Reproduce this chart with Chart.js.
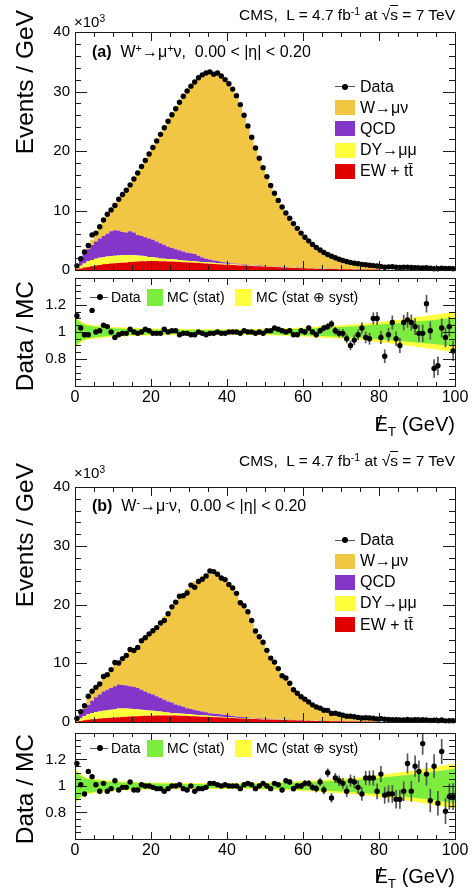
<!DOCTYPE html>
<html>
<head>
<meta charset="utf-8">
<title>MET distributions, W to mu nu</title>
<script src="https://cdn.jsdelivr.net/npm/chart.js@4.4.1/dist/chart.umd.min.js"></script>
<style>
  html, body { margin: 0; padding: 0; background: #fff; }
  #page { position: relative; width: 475px; height: 891px; overflow: hidden;
          font-family: "Liberation Sans", Arial, Helvetica, sans-serif; color: #000; }
  #page canvas { position: absolute; left: 0; }
  .txt { position: absolute; white-space: nowrap; line-height: 1; }
  .vt { position: absolute; white-space: nowrap; text-align: right; width: 200px; line-height: 1;
        transform-origin: 0 0; transform: rotate(-90deg); }
  .txt sup { font-size: 68%; vertical-align: 0; position: relative; top: -0.5em; }
  .txt sub { font-size: 68%; vertical-align: 0; position: relative; top: 0.35em; }
  .met { position: relative; }
  .met::after { content: "/"; position: absolute; left: 0.1em; top: -0.02em; }
  .rt { border-top: 1px solid #000; }
  .box { position: absolute; }
</style>
</head>
<body>
<div id="page"></div>
<script>
// binning: 1 GeV bins, 0 - 100 GeV (MC stack drawn up to 80 GeV)
const xMin = 0;
const xMax = 100;
const binWidth = 1;
const xTicks = [0, 20, 40, 60, 80, 100];
const mainYTicks = [0, 10, 20, 30, 40];
const ratioYTicks = [0.8, 1, 1.2];

// ---------- (a) W+ -> mu+ nu, events / GeV in units of 10^3 ----------
const dataA = [0.7, 1.9, 3.04, 4.12, 5.9, 6.2, 7.27, 8.4, 9.36, 10.1,
  10.85, 11.9, 12.7, 13.4, 14.3, 15.3, 16.3, 17.4, 18.4, 19.5,
  20.6, 21.7, 22.8, 23.9, 25.0, 26.1, 27.1, 28.2, 29.2, 30.1,
  30.9, 31.6, 32.3, 32.8, 33.1, 33.3, 32.9, 33.1, 32.6, 32.0,
  31.3, 30.4, 29.3, 27.8, 26.0, 24.2, 22.3, 20.5, 18.8, 17.2,
  15.7, 14.2, 12.9, 11.7, 10.6, 9.6, 8.7, 7.8, 7.0, 6.2,
  5.5, 4.9, 4.3, 3.8, 3.35, 2.95, 2.6, 2.3, 2.05, 1.8,
  1.6, 1.42, 1.28, 1.15, 1.04, 0.95, 0.87, 0.8, 0.74, 0.68,
  0.58, 0.47, 0.53, 0.55, 0.46, 0.41, 0.47, 0.46, 0.43, 0.4,
  0.36, 0.34, 0.4, 0.32, 0.22, 0.22, 0.29, 0.26, 0.27, 0.22];
const wA = [0.03, 0.14, 0.4, 0.7, 0.9, 1.4, 1.9, 2.3, 2.9, 3.6,
  4.6, 5.3, 6.3, 7.1, 7.8, 9.0, 10.4, 11.7, 12.9, 14.2,
  15.5, 16.9, 18.3, 19.7, 21.1, 22.4, 23.6, 24.9, 26.1, 27.2,
  28.1, 28.9, 29.9, 30.7, 31.2, 31.55, 31.3, 31.6, 31.25, 30.75,
  30.15, 29.3, 28.3, 26.8, 25.1, 23.3, 21.45, 19.7, 18.0, 16.5,
  15.0, 13.55, 12.3, 11.13, 10.07, 9.11, 8.24, 7.38, 6.62, 5.84,
  5.17, 4.59, 4.01, 3.54, 3.11, 2.73, 2.4, 2.11, 1.87, 1.63,
  1.45, 1.28, 1.15, 1.03, 0.93, 0.85, 0.77, 0.71, 0.655, 0.6];
const qcdA = [0.3, 1.0, 1.6, 2.05, 2.5, 2.9, 3.25, 3.55, 3.85, 4.15,
  4.3, 4.15, 3.9, 3.8, 4.0, 3.8, 3.45, 3.3, 3.2, 3.1,
  2.95, 2.75, 2.55, 2.3, 2.05, 1.9, 1.75, 1.6, 1.5, 1.35,
  1.3, 1.25, 1.0, 0.75, 0.6, 0.5, 0.4, 0.35, 0.25, 0.2,
  0.15, 0.13, 0.12, 0.11, 0.1, 0.09, 0.085, 0.08, 0.075, 0.07,
  0.065, 0.06, 0.055, 0.05, 0.045, 0.04, 0.038, 0.035, 0.032, 0.03,
  0.028, 0.026, 0.024, 0.022, 0.02, 0.018, 0.016, 0.015, 0.014, 0.013,
  0.012, 0.011, 0.01, 0.009, 0.009, 0.008, 0.008, 0.007, 0.007, 0.007];
const dyA = [0.18, 0.45, 0.7, 0.93, 1.07, 1.15, 1.2, 1.2, 1.23, 1.27,
  1.27, 1.27, 1.27, 1.22, 1.17, 1.12, 1.03, 0.95, 0.83, 0.7,
  0.65, 0.55, 0.47, 0.44, 0.41, 0.38, 0.35, 0.34, 0.28, 0.27,
  0.26, 0.25, 0.24, 0.23, 0.22, 0.21, 0.2, 0.19, 0.17, 0.15,
  0.13, 0.12, 0.11, 0.1, 0.09, 0.085, 0.08, 0.075, 0.07, 0.065,
  0.06, 0.055, 0.05, 0.046, 0.042, 0.04, 0.037, 0.034, 0.031, 0.028,
  0.026, 0.024, 0.022, 0.02, 0.018, 0.017, 0.016, 0.015, 0.014, 0.013,
  0.012, 0.011, 0.011, 0.01, 0.01, 0.009, 0.009, 0.008, 0.008, 0.008];
const ewA = [0.12, 0.25, 0.4, 0.52, 0.63, 0.75, 0.85, 0.95, 1.02, 1.08,
  1.13, 1.18, 1.23, 1.28, 1.33, 1.38, 1.42, 1.45, 1.47, 1.5,
  1.5, 1.5, 1.48, 1.46, 1.44, 1.42, 1.4, 1.36, 1.32, 1.28,
  1.24, 1.2, 1.16, 1.12, 1.08, 1.04, 1.0, 0.96, 0.93, 0.9,
  0.87, 0.84, 0.8, 0.77, 0.74, 0.71, 0.68, 0.65, 0.62, 0.59,
  0.56, 0.53, 0.5, 0.47, 0.44, 0.41, 0.38, 0.35, 0.32, 0.3,
  0.28, 0.26, 0.24, 0.22, 0.2, 0.18, 0.17, 0.16, 0.15, 0.14,
  0.13, 0.12, 0.11, 0.1, 0.09, 0.085, 0.08, 0.075, 0.07, 0.065];
const ratioA = [1.12, 1.03, 0.98, 0.98, 1.16, 1.0, 1.01, 1.05, 1.04, 1.0,
  0.96, 0.98, 0.99, 0.99, 1.02, 1.0, 0.99, 1.0, 1.02, 1.01,
  0.99, 0.99, 0.99, 1.02, 1.0, 1.01, 1.01, 0.98, 0.99, 0.99,
  0.98, 0.98, 1.0, 0.99, 0.98, 0.99, 0.99, 1.0, 0.99, 0.99,
  1.0, 1.0, 1.0, 0.99, 1.01, 1.0, 1.0, 0.99, 1.0, 0.99,
  1.01, 1.01, 1.03, 1.02, 1.01, 1.0, 1.01, 0.98, 0.98, 1.01,
  1.0, 1.03, 1.0, 0.98, 1.01, 1.03, 1.04, 1.06, 1.01, 0.99,
  0.99, 0.95, 0.9, 0.94, 0.98, 1.03, 0.96, 0.95, 1.1, 1.1,
  0.96, 0.82, 0.98, 1.07, 0.95, 0.9, 1.07, 1.09, 1.07, 1.04,
  0.99, 0.99, 1.21, 1.01, 0.73, 0.75, 1.03, 0.96, 1.04, 0.86];
const errA = [0.012, 0.01, 0.008, 0.007, 0.007, 0.006, 0.006, 0.006, 0.006, 0.006,
  0.006, 0.006, 0.006, 0.006, 0.006, 0.006, 0.006, 0.006, 0.006, 0.006,
  0.006, 0.006, 0.006, 0.006, 0.006, 0.006, 0.006, 0.006, 0.006, 0.006,
  0.006, 0.006, 0.006, 0.006, 0.006, 0.006, 0.006, 0.006, 0.006, 0.006,
  0.006, 0.006, 0.007, 0.007, 0.007, 0.008, 0.008, 0.008, 0.009, 0.009,
  0.01, 0.01, 0.011, 0.011, 0.012, 0.012, 0.013, 0.014, 0.015, 0.016,
  0.017, 0.018, 0.019, 0.02, 0.021, 0.022, 0.024, 0.025, 0.027, 0.028,
  0.03, 0.031, 0.033, 0.035, 0.036, 0.038, 0.04, 0.041, 0.043, 0.045,
  0.046, 0.048, 0.049, 0.05, 0.052, 0.053, 0.055, 0.056, 0.057, 0.059,
  0.06, 0.062, 0.063, 0.064, 0.066, 0.067, 0.068, 0.07, 0.071, 0.072];

// ratio bands: half widths at these E_T nodes (GeV)
const bandX = [0, 1, 2, 3, 5, 7.5, 10, 15, 20, 25, 30, 35, 40, 45, 50, 55, 60, 65, 70, 75, 80, 85, 90, 95, 100];
const statA = [0.11, 0.08, 0.06, 0.05, 0.04, 0.033, 0.028, 0.022, 0.019, 0.016, 0.015, 0.014, 0.014,
  0.015, 0.017, 0.02, 0.025, 0.03, 0.037, 0.045, 0.055, 0.065, 0.078, 0.09, 0.105];
const totA = [0.12, 0.09, 0.07, 0.06, 0.05, 0.043, 0.037, 0.03, 0.026, 0.024, 0.022, 0.021, 0.021,
  0.022, 0.024, 0.028, 0.034, 0.042, 0.05, 0.06, 0.075, 0.09, 0.11, 0.13, 0.15];

// ---------- (b) W- -> mu- nu ----------
const dataB = [0.6, 1.77, 2.77, 4.38, 5.24, 5.9, 6.48, 7.75, 8.06, 8.92,
  10.14, 10.04, 10.79, 11.34, 12.36, 12.17, 12.7, 13.84, 14.35, 15.0,
  15.54, 16.07, 16.86, 17.28, 18.42, 19.6, 20.4, 21.41, 21.5, 21.97,
  23.3, 22.94, 23.91, 24.3, 24.85, 25.7, 25.6, 25.15, 24.5, 24.24,
  23.4, 22.8, 21.9, 20.29, 19.8, 18.77, 17.27, 15.48, 14.5, 13.57,
  12.2, 10.88, 10.2, 9.09, 7.86, 7.49, 6.59, 5.49, 4.9, 4.3,
  3.88, 3.42, 2.92, 2.55, 2.37, 1.99, 1.98, 1.46, 1.51, 1.32,
  1.16, 0.99, 0.98, 0.89, 0.78, 0.69, 0.72, 0.67, 0.63, 0.53,
  0.57, 0.46, 0.43, 0.41, 0.38, 0.36, 0.36, 0.42, 0.34, 0.38,
  0.36, 0.41, 0.33, 0.26, 0.32, 0.23, 0.33, 0.2, 0.22, 0.21];
const wB = [0.02, 0.35, 0.75, 1.05, 1.3, 1.65, 2.05, 2.4, 2.9, 3.3,
  3.65, 3.95, 4.6, 5.25, 5.9, 6.55, 7.3, 8.2, 9.15, 10.1,
  11.0, 12.0, 13.1, 14.2, 15.3, 16.3, 17.4, 18.4, 19.35, 20.3,
  21.1, 21.85, 22.5, 23.0, 23.45, 23.7, 23.68, 23.55, 23.22, 22.8,
  22.3, 21.8, 20.95, 19.85, 18.8, 17.65, 16.4, 15.2, 13.9, 12.75,
  11.7, 10.6, 9.55, 8.6, 7.7, 6.85, 6.05, 5.3, 4.6, 4.0,
  3.55, 3.1, 2.7, 2.4, 2.1, 1.85, 1.6, 1.43, 1.26, 1.12,
  1.0, 0.9, 0.82, 0.745, 0.68, 0.63, 0.585, 0.54, 0.505, 0.47];
const qcdB = [0.25, 0.8, 1.2, 1.6, 2.1, 2.5, 2.9, 3.3, 3.5, 3.7,
  3.9, 4.1, 4.0, 3.9, 3.85, 3.8, 3.65, 3.4, 3.2, 2.95,
  2.8, 2.55, 2.3, 2.1, 1.9, 1.75, 1.5, 1.35, 1.2, 1.0,
  0.9, 0.8, 0.7, 0.65, 0.55, 0.45, 0.42, 0.4, 0.38, 0.35,
  0.3, 0.25, 0.22, 0.16, 0.14, 0.12, 0.1, 0.09, 0.08, 0.075,
  0.07, 0.065, 0.06, 0.055, 0.05, 0.045, 0.04, 0.038, 0.035, 0.032,
  0.03, 0.028, 0.026, 0.024, 0.022, 0.02, 0.018, 0.016, 0.015, 0.014,
  0.013, 0.012, 0.011, 0.01, 0.01, 0.009, 0.009, 0.008, 0.008, 0.008];
const dyB = [0.17, 0.42, 0.72, 0.92, 1.05, 1.18, 1.22, 1.28, 1.32, 1.38,
  1.42, 1.48, 1.44, 1.4, 1.31, 1.22, 1.15, 1.07, 0.95, 0.88,
  0.82, 0.76, 0.7, 0.6, 0.5, 0.45, 0.41, 0.38, 0.35, 0.32,
  0.3, 0.28, 0.26, 0.24, 0.22, 0.2, 0.18, 0.16, 0.14, 0.12,
  0.1, 0.1, 0.09, 0.085, 0.08, 0.075, 0.07, 0.065, 0.06, 0.055,
  0.05, 0.046, 0.042, 0.04, 0.037, 0.034, 0.031, 0.028, 0.026, 0.024,
  0.022, 0.02, 0.019, 0.018, 0.017, 0.016, 0.015, 0.014, 0.013, 0.012,
  0.011, 0.01, 0.01, 0.009, 0.009, 0.008, 0.008, 0.007, 0.007, 0.006];
const ewB = [0.08, 0.18, 0.28, 0.38, 0.45, 0.52, 0.58, 0.62, 0.68, 0.72,
  0.78, 0.82, 0.86, 0.9, 0.94, 0.98, 1.0, 1.03, 1.05, 1.07,
  1.08, 1.09, 1.1, 1.1, 1.1, 1.1, 1.09, 1.07, 1.05, 1.03,
  1.0, 0.97, 0.94, 0.91, 0.88, 0.85, 0.82, 0.79, 0.76, 0.73,
  0.7, 0.67, 0.64, 0.61, 0.58, 0.55, 0.52, 0.49, 0.46, 0.44,
  0.42, 0.4, 0.38, 0.36, 0.34, 0.32, 0.3, 0.28, 0.26, 0.24,
  0.22, 0.2, 0.19, 0.18, 0.17, 0.16, 0.15, 0.14, 0.13, 0.12,
  0.11, 0.1, 0.095, 0.09, 0.085, 0.08, 0.075, 0.07, 0.065, 0.06];
const ratioB = [1.17, 1.01, 0.94, 1.11, 1.07, 1.01, 0.96, 1.02, 0.96, 0.98,
  1.04, 0.97, 0.99, 0.99, 1.03, 0.97, 0.97, 1.01, 1.0, 1.0,
  0.99, 0.98, 0.98, 0.96, 0.98, 1.0, 1.0, 1.01, 0.98, 0.97,
  1.0, 0.96, 0.98, 0.98, 0.99, 1.02, 1.02, 1.01, 1.0, 1.01,
  1.0, 1.0, 1.0, 0.98, 1.01, 1.02, 1.01, 0.98, 1.0, 1.02,
  1.0, 0.98, 1.02, 1.01, 0.97, 1.04, 1.03, 0.98, 1.0, 1.0,
  1.02, 1.02, 0.99, 0.98, 1.03, 0.97, 1.1, 0.91, 1.06, 1.04,
  1.02, 0.96, 1.04, 1.03, 0.99, 0.94, 1.06, 1.06, 1.06, 0.96,
  1.09, 0.93, 0.94, 0.94, 0.9, 0.9, 0.96, 1.17, 0.96, 1.15,
  1.11, 1.32, 1.09, 0.89, 1.15, 0.87, 1.26, 0.81, 0.92, 0.92];
const errB = [0.014, 0.011, 0.009, 0.008, 0.008, 0.007, 0.007, 0.007, 0.007, 0.007,
  0.007, 0.007, 0.007, 0.007, 0.007, 0.007, 0.007, 0.007, 0.007, 0.007,
  0.007, 0.007, 0.007, 0.007, 0.007, 0.007, 0.007, 0.007, 0.007, 0.007,
  0.007, 0.007, 0.007, 0.007, 0.007, 0.007, 0.007, 0.007, 0.007, 0.007,
  0.007, 0.007, 0.008, 0.008, 0.009, 0.009, 0.01, 0.01, 0.011, 0.011,
  0.012, 0.013, 0.013, 0.014, 0.015, 0.016, 0.017, 0.018, 0.019, 0.02,
  0.022, 0.023, 0.025, 0.026, 0.028, 0.03, 0.031, 0.033, 0.035, 0.037,
  0.039, 0.041, 0.043, 0.045, 0.047, 0.049, 0.051, 0.053, 0.055, 0.057,
  0.059, 0.061, 0.063, 0.065, 0.067, 0.069, 0.071, 0.073, 0.075, 0.077,
  0.08, 0.082, 0.084, 0.086, 0.088, 0.09, 0.092, 0.094, 0.096, 0.098];
const statB = [0.12, 0.09, 0.07, 0.055, 0.045, 0.036, 0.03, 0.024, 0.02, 0.017, 0.016, 0.015, 0.015,
  0.016, 0.018, 0.022, 0.028, 0.034, 0.042, 0.05, 0.062, 0.075, 0.09, 0.11, 0.13];
const totB = [0.13, 0.1, 0.08, 0.065, 0.055, 0.046, 0.04, 0.032, 0.027, 0.025, 0.023, 0.022, 0.022,
  0.023, 0.026, 0.03, 0.037, 0.045, 0.055, 0.066, 0.085, 0.1, 0.12, 0.145, 0.17];

// colours
const colW = "#f1c644";
const colQCD = "#8436c8";
const colDY = "#ffff3c";
const colEW = "#e00000";
const colStat = "#7ced3e";
const colTot = "#ffff40";

Chart.defaults.font.family = '"Liberation Sans", Arial, sans-serif';
Chart.defaults.color = "#000";

const page = document.getElementById("page");

function addEl(cls, html, css) {
  const d = document.createElement("div");
  d.className = cls;
  d.innerHTML = html;
  Object.assign(d.style, css);
  page.appendChild(d);
  return d;
}

function addCanvas(top, height) {
  const c = document.createElement("canvas");
  c.width = 475;
  c.height = height;
  c.style.top = top + "px";
  c.style.width = "475px";
  c.style.height = height + "px";
  page.appendChild(c);
  return c;
}

const binCenter = (i) => xMin + (i + 0.5) * binWidth;
const fixTicks = (list) => (s) => { s.ticks = list.map((v) => ({ value: v })); };
const nearMult = (v, step) => Math.abs(v / step - Math.round(v / step)) < 1e-6;

// ROOT-like frame with inward ticks on all four sides
const rootFrame = {
  id: "rootFrame",
  afterDatasetsDraw(chart, args, o) {
    const { ctx, chartArea: a } = chart;
    const x = chart.scales.x;
    const y = chart.scales.y;
    ctx.save();
    ctx.strokeStyle = "#1a1a1a";
    ctx.lineWidth = 1;
    ctx.beginPath();
    const nx = Math.round((x.max - x.min) / o.xMinor);
    for (let k = 0; k <= nx; k++) {
      const v = x.min + k * o.xMinor;
      const px = Math.round(x.getPixelForValue(v)) + 0.5;
      const len = nearMult(v, o.xMajor) ? o.xMajorLen : o.xMinorLen;
      ctx.moveTo(px, a.top);
      ctx.lineTo(px, a.top + len);
      ctx.moveTo(px, a.bottom);
      ctx.lineTo(px, a.bottom - len);
    }
    const ny = Math.round((y.max - y.min) / o.yMinor);
    for (let k = 0; k <= ny; k++) {
      const v = y.min + k * o.yMinor;
      const py = Math.round(y.getPixelForValue(v)) + 0.5;
      const len = nearMult(v, o.yMajor) ? o.yMajorLen : o.yMinorLen;
      ctx.moveTo(a.left, py);
      ctx.lineTo(a.left + len, py);
      ctx.moveTo(a.right, py);
      ctx.lineTo(a.right - len, py);
    }
    ctx.stroke();
    ctx.strokeRect(Math.round(a.left) + 0.5, Math.round(a.top) + 0.5,
      Math.round(a.right - a.left), Math.round(a.bottom - a.top));
    ctx.restore();
  },
};

const baseOptions = {
  responsive: false,
  animation: false,
  devicePixelRatio: 1,
  events: [],
};

function drawMain(p) {
  const g = p.main;
  const canvas = addCanvas(g.top - 32, g.bottom - g.top + 52);
  // left bin edges + closing point, drawn as steps
  const steps = (vals) => {
    const pts = vals.map((v, i) => ({ x: xMin + i * binWidth, y: v }));
    pts.push({ x: xMin + vals.length * binWidth, y: vals[vals.length - 1] });
    return pts;
  };
  const hist = (label, vals, color, fill) => ({
    type: "line",
    label: label,
    data: steps(vals),
    stack: "mc",
    stepped: "before",
    fill: fill,
    backgroundColor: color,
    borderColor: "transparent",
    borderWidth: 0,
    pointRadius: 0,
  });
  new Chart(canvas, {
    type: "scatter",
    data: {
      datasets: [
        {
          label: "Data",
          data: p.data.map((v, i) => ({ x: binCenter(i), y: v })),
          stack: "data",
          pointRadius: 2.7,
          pointBackgroundColor: "#000",
          pointBorderWidth: 0,
          clip: false,
        },
        hist("EW + tt\u0304", p.ew, colEW, "origin"),
        hist("DY\u2192\u03bc\u03bc", p.dy, colDY, "-1"),
        hist("QCD", p.qcd, colQCD, "-1"),
        hist("W\u2192\u03bc\u03bd", p.w, colW, "-1"),
      ],
    },
    options: Object.assign({}, baseOptions, {
      layout: { padding: { top: 32, right: 20, bottom: 20, left: 0 } },
      plugins: {
        legend: { display: false },
        tooltip: { enabled: false },
        rootFrame: { xMajor: 20, xMinor: 5, xMajorLen: 9, xMinorLen: 5,
                     yMajor: 10, yMinor: 2, yMajorLen: 12, yMinorLen: 6 },
      },
      scales: {
        x: { type: "linear", min: xMin, max: xMax, display: false },
        y: {
          type: "linear", min: 0, max: 40, stacked: true,
          grid: { display: false, drawTicks: false },
          border: { display: false },
          ticks: { font: { size: 15 }, padding: 5, callback: (v) => String(v) },
          afterBuildTicks: fixTicks(mainYTicks),
          afterFit: (s) => { s.width = 75; },
        },
      },
    }),
    plugins: [rootFrame],
  });
}

function drawRatio(p) {
  const g = p.ratio;
  const canvas = addCanvas(g.top - 22, g.bottom - g.top + 50);
  const band = (w, sign) => bandX.map((x, k) => ({ x: x, y: 1 + sign * w[k] }));
  const edge = { type: "line", fill: false, borderColor: "transparent", borderWidth: 0, pointRadius: 0 };
  new Chart(canvas, {
    type: "scatter",
    data: {
      datasets: [
        {
          label: "Data",
          data: p.r.map((v, i) => ({ x: binCenter(i), y: v })),
          pointRadius: 2.7,
          pointBackgroundColor: "#000",
          pointBorderWidth: 0,
          clip: false,
        },
        {
          type: "bar",
          label: "Data error",
          data: p.r.map((v, i) => ({ x: binCenter(i), y: [v - p.err[i], v + p.err[i]] })),
          backgroundColor: "#555",
          barThickness: 1,
          grouped: false,
        },
        Object.assign({}, edge, { label: "MC (stat)", data: band(p.stat, 1), fill: "+1", backgroundColor: colStat }),
        Object.assign({}, edge, { label: "stat low", data: band(p.stat, -1) }),
        Object.assign({}, edge, { label: "MC (stat \u2295 syst)", data: band(p.tot, 1), fill: "+1", backgroundColor: colTot }),
        Object.assign({}, edge, { label: "tot low", data: band(p.tot, -1) }),
      ],
    },
    options: Object.assign({}, baseOptions, {
      layout: { padding: { top: 22, right: 20, bottom: 0, left: 0 } },
      plugins: {
        legend: { display: false },
        tooltip: { enabled: false },
        rootFrame: { xMajor: 20, xMinor: 5, xMajorLen: 7, xMinorLen: 4,
                     yMajor: 0.2, yMinor: 0.05, yMajorLen: 12, yMinorLen: 6 },
      },
      scales: {
        x: {
          type: "linear", min: xMin, max: xMax, offset: false,
          grid: { display: false, drawTicks: false },
          border: { display: false },
          ticks: { font: { size: 16 }, padding: 2, maxRotation: 0, autoSkip: false },
          afterBuildTicks: fixTicks(xTicks),
          afterFit: (s) => { s.height = 28; },
        },
        y: {
          type: "linear", min: 0.6, max: 1.4,
          grid: { display: false, drawTicks: false },
          border: { display: false },
          ticks: { font: { size: 15 }, padding: 9, callback: (v) => String(v) },
          afterBuildTicks: fixTicks(ratioYTicks),
          afterFit: (s) => { s.width = 75; },
        },
      },
    }),
    plugins: [rootFrame],
  });
}

// vertical axis title, text ends at topEnd (ROOT style, aligned to the top)
function vTitle(text, cx, topEnd, size) {
  addEl("vt", text, {
    fontSize: size + "px",
    left: cx - 0.49 * size + "px",
    top: topEnd + 200 + "px",
  });
}

// single line text with its cap-height centre at cy
function text(html, size, cy, pos) {
  return addEl("txt", html, Object.assign({ fontSize: size + "px", top: cy - 0.49 * size + "px" }, pos));
}

function mainLegend(p) {
  const rows = [
    { label: "Data", marker: true },
    { label: "W\u2192\u03bc\u03bd", color: colW },
    { label: "QCD", color: colQCD },
    { label: "DY\u2192\u03bc\u03bc", color: colDY },
    { label: "EW + tt&#x304;", color: colEW },
  ];
  rows.forEach((r, k) => {
    const cy = p.legY + k * 21.1;
    if (r.marker) {
      addEl("box", "", { left: "335px", top: cy - 0.5 + "px", width: "20px", height: "1px", background: "#555" });
      addEl("box", "", { left: "342px", top: cy - 3 + "px", width: "6px", height: "6px", borderRadius: "50%", background: "#000" });
    } else {
      addEl("box", "", { left: "335px", top: cy - 7.5 + "px", width: "20px", height: "15px", background: r.color });
    }
    text(r.label, 16, cy, { left: "360px" });
  });
}

function ratioLegend(p) {
  const cy = p.rLegY;
  addEl("box", "", { left: "90px", top: cy - 0.5 + "px", width: "18px", height: "1px", background: "#555" });
  addEl("box", "", { left: "97px", top: cy - 3 + "px", width: "6px", height: "6px", borderRadius: "50%", background: "#000" });
  text("Data", 14, cy, { left: "111px" });
  addEl("box", "", { left: "147px", top: cy - 8.5 + "px", width: "16px", height: "17px", background: colStat });
  text("MC (stat)", 14, cy, { left: "167px" });
  addEl("box", "", { left: "235px", top: cy - 8.5 + "px", width: "17px", height: "17px", background: colTot });
  text("MC (stat \u2295 syst)", 14, cy, { left: "256px" });
}

function drawPanel(p) {
  drawMain(p);
  drawRatio(p);
  text('CMS,&nbsp; L = 4.7 fb<sup>-1</sup> at \u221a<span class="rt">s</span> = 7 TeV', 15.5, p.cmsY, { right: "20px" });
  text("\u00d710<sup>3</sup>", 15, p.x10Y, { left: "74px" });
  text(p.label, 16, p.labelY, { left: "92px" });
  vTitle("Events / GeV", 25.5, p.eventsTop, 24.5);
  vTitle("Data / MC", 25, p.ratioTitleTop, 24.5);
  text('<span class="met">E</span><sub>T</sub> (GeV)', 20, p.xTitleY, { right: "20px" });
  mainLegend(p);
  ratioLegend(p);
}

drawPanel({
  data: dataA, w: wA, qcd: qcdA, dy: dyA, ew: ewA,
  r: ratioA, err: errA, stat: statA, tot: totA,
  main: { top: 32, bottom: 270 },
  ratio: { top: 278, bottom: 386 },
  label: "<b>(a)</b>&nbsp; W<sup>+</sup>\u2192\u03bc<sup>+</sup>\u03bd,&nbsp; 0.00 &lt; |\u03b7| &lt; 0.20",
  cmsY: 14.5, x10Y: 21, labelY: 52, legY: 86.7, rLegY: 297,
  eventsTop: 10, ratioTitleTop: 281, xTitleY: 424,
});

drawPanel({
  data: dataB, w: wB, qcd: qcdB, dy: dyB, ew: ewB,
  r: ratioB, err: errB, stat: statB, tot: totB,
  main: { top: 487, bottom: 722 },
  ratio: { top: 733, bottom: 839 },
  label: "<b>(b)</b>&nbsp; W<sup>-</sup>\u2192\u03bc<sup>-</sup>\u03bd,&nbsp; 0.00 &lt; |\u03b7| &lt; 0.20",
  cmsY: 461, x10Y: 472, labelY: 506, legY: 540, rLegY: 748,
  eventsTop: 463, ratioTitleTop: 734, xTitleY: 876,
});
</script>
</body>
</html>
